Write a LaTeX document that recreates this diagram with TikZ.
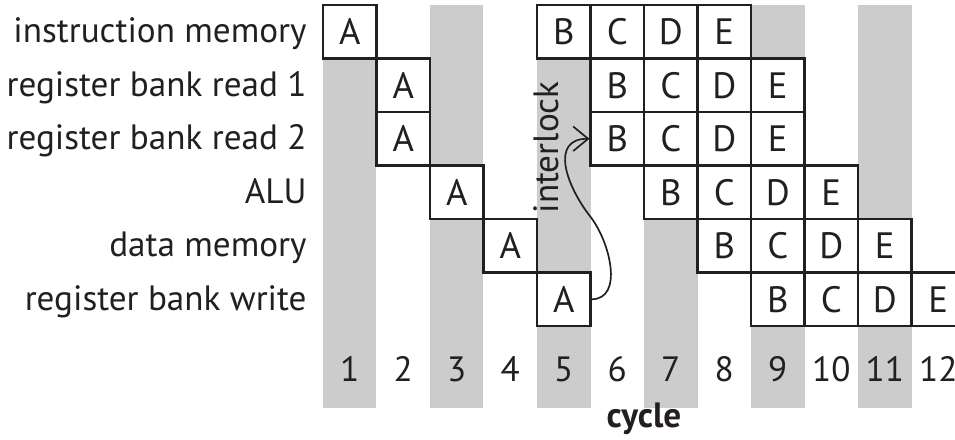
\documentclass[tikz,border=0pt]{standalone}
\usepackage{fontspec}
\setmainfont{PT Sans}
\usetikzlibrary{positioning,arrows.meta}
\definecolor{stripegray}{gray}{0.8}
\definecolor{inkblack}{HTML}{231F20}

\begin{document}
\begin{tikzpicture}[x=1cm,y=1cm]
    \tikzstyle{stage} = [draw=inkblack, line width=1.1pt, fill=white, rectangle, minimum size=1cm, inner sep=0pt, font=\fontsize{19.5}{22}\selectfont, text=inkblack]
    \tikzstyle{unit} = [anchor=base east, inner sep=0pt, font=\fontsize{18.7}{22}\selectfont, text=inkblack]
    \tikzstyle{num} = [anchor=base, inner sep=0pt, font=\fontsize{18.7}{22}\selectfont, text=inkblack]
    \useasboundingbox (-6.037,0.0935) rectangle (11.813,-8.112);

    % cycle stripes
    \foreach \c in {1,3,...,11}
      \fill[stripegray] (\c-1,0) rectangle (\c,-7.533);

    % pipeline units
    \node[unit] (im)  at (-0.3,-0.705) {instruction memory};
    \node[unit] (rda) at (-0.3,-1.705) {register bank read 1};
    \node[unit] (rdb) at (-0.3,-2.705) {register bank read 2};
    \node[unit] (alu) at (-0.3,-3.705) {ALU};
    \node[unit] (dm)  at (-0.3,-4.705) {data memory};
    \node[unit] (wb)  at (-0.3,-5.705) {register bank write};

    % instructions in flight
    \foreach \rn/\r/\a/\b in {im/1/1/5, rda/2/2/6, rdb/3/2/6, alu/4/3/7, dm/5/4/8, wb/6/5/9} {
      \node[stage] (\rn-A) at (\a-0.5, 0.5-\r) {A};
      \foreach \l [count=\i from 0] in {B,C,D,E}
        \node[stage] (\rn-\l) at (\b+\i-0.5, 0.5-\r) {\l};
    }

    % cycle numbers
    \foreach \c in {1,...,12}
      \node[num] (n\c) at (\c-0.5,-7.03) {\c};
    \node[num, font=\fontsize{18.7}{22}\selectfont\bfseries] (cycle) at (6,-7.89) {cycle};

    % interlock
    \node[rotate=90, inner sep=0pt, font=\fontsize{18.7}{22}\selectfont, text=inkblack] (lock) at (4.18,-2.66) {interlock};
    \coordinate (turn) at (5.0,-3.96);
    \draw[inkblack, line width=0.9pt, -{Straight Barb[length=2.8mm,width=4.6mm]}]
      (wb-A.east) to[out=0,in=-52] (turn) to[out=128,in=180,looseness=1.3] (rdb-B.west);

  \end{tikzpicture}
\end{document}
